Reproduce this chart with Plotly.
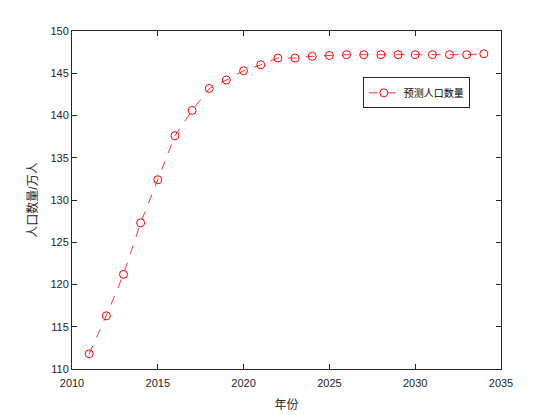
import plotly.graph_objects as go

# predicted population (10k persons) per year
years = list(range(2011, 2035))
population = [111.8, 116.3, 121.2, 127.3, 132.4, 137.6, 140.6, 143.2, 144.2, 145.3,
              146.0, 146.8, 146.8, 147.0, 147.1, 147.2, 147.2, 147.2, 147.2, 147.2,
              147.2, 147.2, 147.2, 147.3]

x_ticks = [2010, 2015, 2020, 2025, 2030, 2035]
y_ticks = [110, 115, 120, 125, 130, 135, 140, 145, 150]

AXIS = '#262626'
FONT = 'Liberation Sans, Noto Sans CJK SC, sans-serif'

fig = go.Figure()

fig.add_trace(go.Scatter(
    x=years,
    y=population,
    mode='lines+markers',
    name='预测人口数量',
    line=dict(color='#FF0000', width=0.8, dash='dash'),
    marker=dict(symbol='circle-open', size=8, color='#FF0000', line=dict(width=1))
))

axis_common = dict(
    showgrid=False,
    zeroline=False,
    showline=True,
    linecolor=AXIS,
    linewidth=1,
    mirror='ticks',
    ticks='inside',
    ticklen=5,
    tickcolor=AXIS,
    tickfont=dict(size=11, color=AXIS, family=FONT),
)

fig.update_xaxes(range=[2010, 2035], tickvals=x_ticks, ticklabelstandoff=4,
                 title=dict(text='年份', font=dict(size=12, color=AXIS, family=FONT), standoff=12),
                 **axis_common)
fig.update_yaxes(range=[110, 150], tickvals=y_ticks,
                 title=dict(text='人口数量/万人', font=dict(size=12, color=AXIS, family=FONT), standoff=10),
                 **axis_common)

# page body adds an 8px offset, margins compensate for it
fig.update_layout(
    width=554,
    height=415,
    margin=dict(l=64, r=61, t=23, b=54),
    plot_bgcolor='white',
    paper_bgcolor='white',
    font=dict(family=FONT, color='#000000'),
    legend=dict(
        x=0.678, y=0.817, xanchor='left', yanchor='middle',
        bordercolor=AXIS, borderwidth=1, bgcolor='white',
        font=dict(size=10, color='#000000', family=FONT),
        itemwidth=30,
        tracegroupgap=0,
    ),
    showlegend=True,
)

fig.write_html("out.html")
